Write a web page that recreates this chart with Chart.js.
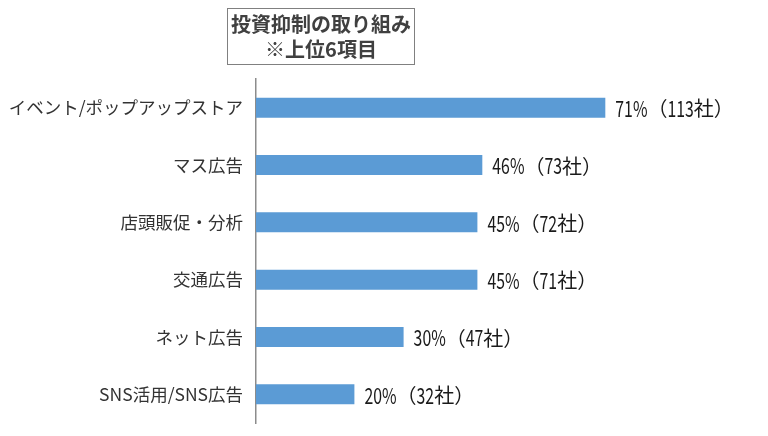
<!DOCTYPE html>
<html><head><meta charset="utf-8">
<script src="https://cdn.jsdelivr.net/npm/chart.js@4"></script>
<style>
html,body{margin:0;padding:0;background:#fff;}
#wrap{position:relative;width:768px;height:436px;}
#title{position:absolute;left:227px;top:8px;width:188px;height:57px;border:1.5px solid #808080;box-sizing:border-box;
font-family:'Noto Sans CJK JP',sans-serif;font-weight:bold;font-size:20px;line-height:25px;color:#404040;text-align:center;padding-top:2px;}
</style></head>
<body><div id="wrap"><div id="title">投資抑制の取り組み<br>※上位6項目</div><canvas id="c" width="768" height="436"></canvas></div>
<script>
const categories = ['イベント/ポップアップストア','マス広告','店頭販促・分析','交通広告','ネット広告','SNS活用/SNS広告'];
const percents = [71, 46, 45, 45, 30, 20];
const companies = [113, 73, 72, 71, 47, 32];

function narrowText(ctx, text, x, y, sx) {
  ctx.save();
  ctx.translate(x, y);
  ctx.scale(sx, 1);
  ctx.fillText(text, 0, 0);
  const w = ctx.measureText(text).width * sx;
  ctx.restore();
  return w;
}

const labelPlugin = {
  id: 'barLabels',
  afterDatasetsDraw(chart) {
    const ctx = chart.ctx;
    const meta = chart.getDatasetMeta(0);
    ctx.save();
    ctx.textBaseline = 'middle';
    ctx.textAlign = 'left';
    ctx.fillStyle = '#1a1a1a';
    meta.data.forEach((bar, i) => {
      let x = bar.x + 10;
      const y = bar.y + 1;
      ctx.font = '22px "Noto Sans CJK JP"';
      x += narrowText(ctx, percents[i] + '%', x, y, 0.72);
      ctx.font = '20px "Noto Sans CJK JP"';
      x += narrowText(ctx, '（', x, y, 1);
      ctx.font = '22px "Noto Sans CJK JP"';
      x += narrowText(ctx, String(companies[i]), x, y, 0.72);
      ctx.font = '20px "Noto Sans CJK JP"';
      narrowText(ctx, '社）', x, y, 1);
    });
    ctx.restore();
  }
};

new Chart(document.getElementById('c'), {
  type: 'bar',
  data: {
    labels: categories,
    datasets: [{
      data: percents,
      backgroundColor: '#5B9BD5',
      barPercentage: 0.35,
      categoryPercentage: 1.0
    }]
  },
  options: {
    indexAxis: 'y',
    responsive: false,
    animation: false,
    devicePixelRatio: 1,
    layout: { padding: { top: 79, bottom: 13, right: 20, left: 0 } },
    plugins: { legend: { display: false }, tooltip: { enabled: false } },
    scales: {
      x: { display: false, min: 0, max: 100 },
      y: {
        afterFit(s) { s.width = 256; s.paddingTop = 0; s.paddingBottom = 0; },
        grid: { display: false, drawTicks: false },
        border: { display: true, color: '#8c8c8c', width: 1.5 },
        ticks: { padding: 13, color: '#333', font: { family: '"Noto Sans CJK JP"', size: 17.5 } }
      }
    }
  },
  plugins: [labelPlugin]
});
</script></body></html>
